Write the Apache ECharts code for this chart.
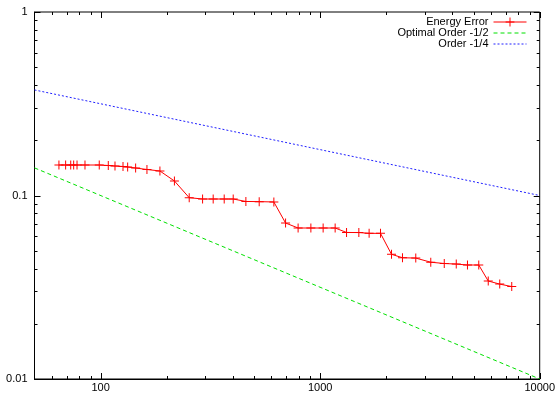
<!DOCTYPE html>
<html>
<head>
<meta charset="utf-8">
<script src="https://cdn.jsdelivr.net/npm/echarts@6/dist/echarts.min.js"></script>
<style>
html,body{margin:0;padding:0;background:#fff;}
#chart{width:558px;height:394px;}
</style>
</head>
<body>
<div id="chart"></div>
<script>
// ---- data ----
const errN = [64.6, 69.3, 73.1, 75.4, 78.1, 84.9, 98.6, 108.4, 116.3, 126.5, 132.8, 144.4, 162.6, 186.3, 216.9, 253.3, 291.4, 325.7, 365.6, 401.8, 458.9, 527.7, 615.4, 695.8, 793.6, 907.3, 1031.8, 1170.3, 1318.9, 1500.4, 1671.2, 1883.0, 2113.4, 2371.4, 2726.0, 3190.2, 3675.1, 4167.9, 4688.2, 5277.4, 5829.3, 6575.7, 7458.2];
const errE = [0.1466, 0.1466, 0.1466, 0.1466, 0.1466, 0.1466, 0.1466, 0.1457, 0.1448, 0.1439, 0.1430, 0.1412, 0.1386, 0.1360, 0.1200, 0.0973, 0.0957, 0.0957, 0.0957, 0.0957, 0.0928, 0.0926, 0.0922, 0.0708, 0.0665, 0.0665, 0.0665, 0.0665, 0.0629, 0.0628, 0.0622, 0.0622, 0.0478, 0.0458, 0.0456, 0.0433, 0.0426, 0.0423, 0.0418, 0.0418, 0.0342, 0.0329, 0.0319];
const optN = [50, 10000];
const optE = [0.1414, 0.01];
const qtrN = [50, 10000];
const qtrE = [0.376, 0.1];
const seriesNames = ['Energy Error', 'Optimal Order -1/2', 'Order -1/4'];
const xRange = [50, 10000];
const yRange = [0.01, 1];
const xMajorTicks = [100, 1000, 10000];
const xMinorTicks = [60, 70, 80, 90, 200, 300, 400, 500, 600, 700, 800, 900, 2000, 3000, 4000, 5000, 6000, 7000, 8000, 9000];
const yMajorTicks = [0.01, 0.1, 1];
const yMinorTicks = [0.02, 0.03, 0.04, 0.05, 0.06, 0.07, 0.08, 0.09, 0.2, 0.3, 0.4, 0.5, 0.6, 0.7, 0.8, 0.9];

const zip = (a, b) => a.map((v, i) => [v, b[i]]);
const FONT = 'Liberation Sans';

const tickData = []
  .concat(xMinorTicks.map(v => [v, 0.1, 0]))
  .concat(xMajorTicks.map(v => [v, 0.1, 1]))
  .concat(yMinorTicks.map(v => [100, v, 2]))
  .concat(yMajorTicks.map(v => [100, v, 3]));

const chart = echarts.init(document.getElementById('chart'), null, {renderer: 'canvas'});

function legendFor(name, top, hideSymbol) {
  const item = hideSymbol ? {name: name, itemStyle: {opacity: 0}} : {name: name};
  return {
    data: [item], orient: 'vertical', right: 31, top: top, padding: 0,
    itemWidth: 33, itemHeight: 11, align: 'right',
    lineStyle: {width: 1},
    textStyle: {fontFamily: FONT, fontSize: 11, color: '#000'},
    selectedMode: false
  };
}

chart.setOption({
  animation: false,
  backgroundColor: '#fff',
  grid: {left: 34.5, right: 18, top: 12, bottom: 15, show: true, borderColor: '#000', borderWidth: 1, backgroundColor: 'transparent'},
  legend: [legendFor(seriesNames[0], 16.5, false), legendFor(seriesNames[1], 27.5, true), legendFor(seriesNames[2], 38.5, true)],
  xAxis: {
    type: 'log', logBase: 10, min: xRange[0], max: xRange[1],
    axisLine: {show: true, lineStyle: {color: '#000', width: 1}},
    axisTick: {show: false}, splitLine: {show: false}, minorTick: {show: false},
    axisLabel: {
      show: true, margin: 3, color: '#000', fontFamily: FONT, fontSize: 11,
      showMinLabel: true, showMaxLabel: true,
      formatter: v => { const l = Math.log10(v); return Math.abs(l - Math.round(l)) < 1e-6 ? String(Math.round(v)) : ''; }
    }
  },
  yAxis: {
    type: 'log', logBase: 10, min: yRange[0], max: yRange[1],
    axisLine: {show: true, lineStyle: {color: '#000', width: 1}},
    axisTick: {show: false}, splitLine: {show: false}, minorTick: {show: false},
    axisLabel: {
      show: true, margin: 7, color: '#000', fontFamily: FONT, fontSize: 11,
      showMinLabel: true, showMaxLabel: true,
      formatter: v => { const l = Math.log10(v); return Math.abs(l - Math.round(l)) < 1e-6 ? String(Number(v.toPrecision(6))) : ''; }
    }
  },
  series: [
    {
      name: seriesNames[0], type: 'line', data: zip(errN, errE),
      symbol: 'path://M4,0h1v4h4v1h-4v4h-1v-4h-4v-1h4z', symbolSize: 9, showSymbol: true,
      itemStyle: {color: '#ff0000'}, lineStyle: {color: '#ff0000', width: 1}, z: 5
    },
    {
      name: seriesNames[1], type: 'line', data: zip(optN, optE), symbol: 'none',
      itemStyle: {color: '#00e000'}, lineStyle: {color: '#00e000', width: 1, type: [4, 3]}
    },
    {
      name: seriesNames[2], type: 'line', data: zip(qtrN, qtrE), symbol: 'none',
      itemStyle: {color: '#2020ff'}, lineStyle: {color: '#2020ff', width: 1, type: [2, 2]}
    },
    {
      name: 'ticks', type: 'custom', silent: true, data: tickData, clip: false, z: 10,
      renderItem: function (params, api) {
        const cs = params.coordSys;
        const kind = api.value(2);
        const p = api.coord([api.value(0), api.value(1)]);
        const L = (kind === 1 || kind === 3) ? 6 : 3;
        const st = {stroke: '#000', lineWidth: 1};
        let segs;
        if (kind < 2) {
          const x = Math.round(p[0]) + 0.5;
          const b = cs.y + cs.height, t = cs.y;
          segs = [[x, b, x, b - L], [x, t, x, t + L]];
        } else {
          const y = Math.round(p[1]) + 0.5;
          const l = cs.x, r = cs.x + cs.width;
          segs = [[l, y, l + L, y], [r, y, r - L, y]];
        }
        return {type: 'group', children: segs.map(s => ({type: 'line', shape: {x1: s[0], y1: s[1], x2: s[2], y2: s[3]}, style: st}))};
      }
    }
  ]
});
</script>
</body>
</html>
